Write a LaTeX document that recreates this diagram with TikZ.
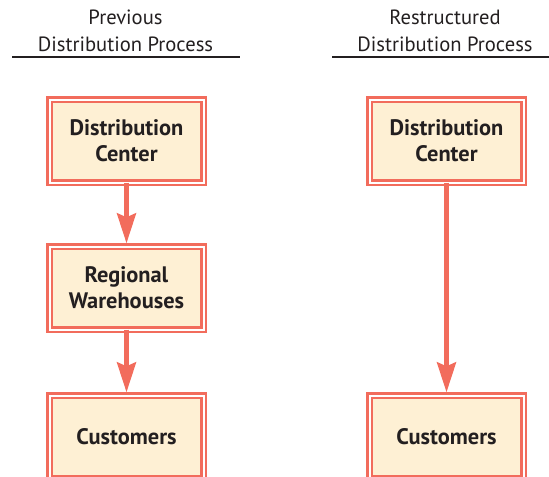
\documentclass[tikz,border=0pt]{standalone}
\usepackage{fontspec}
\setmainfont{PT Sans}
\usetikzlibrary{arrows.meta,positioning}
\definecolor{boxred}{RGB}{242,108,92}
\definecolor{cream}{RGB}{254,240,212}
\definecolor{inkgray}{RGB}{35,31,32}
\tikzset{
  stage/.style={draw=boxred,line width=1.1pt,double=white,double distance=1pt,fill=cream,
    minimum width=77pt,minimum height=41.5pt,outer sep=0pt,align=center,text=inkgray,
    font=\bfseries\fontsize{11.2}{13}\selectfont},
  flow/.style={-{Stealth[length=15pt,width=9.5pt,inset=2pt]},line width=2.2pt,boxred,shorten >=1.6pt},
  head/.style={align=center,text=inkgray,font=\fontsize{10.3}{13.5}\selectfont}
}
\begin{document}
\begin{tikzpicture}[x=0.5pt,y=-0.5pt]
  \useasboundingbox (0,0) rectangle (549,476);
  % column headings
  \node[head] (prevhead) at (125.5,31) {Previous\\Distribution Process};
  \node[head] (newhead) at (445,31) {Restructured\\Distribution Process};
  \draw[line width=1pt,inkgray] (12,57.5) -- (240,57.5);
  \draw[line width=1pt,inkgray] (332,57.5) -- (549,57.5);
  % previous process
  \node[stage] (prevdc) at (126.5,141) {Distribution\\Center};
  \node[stage,below=32pt of prevdc] (prevwh) {Regional\\Warehouses};
  \node[stage,below=33pt of prevwh] (prevcust) {Customers};
  \draw[flow] (prevdc) -- (prevwh);
  \draw[flow] (prevwh) -- (prevcust);
  % restructured process
  \node[stage] (newdc) at (446.5,141) {Distribution\\Center};
  \node[stage] (newcust) at (newdc |- prevcust) {Customers};
  \draw[flow] (newdc) -- (newcust);
\end{tikzpicture}
\end{document}
